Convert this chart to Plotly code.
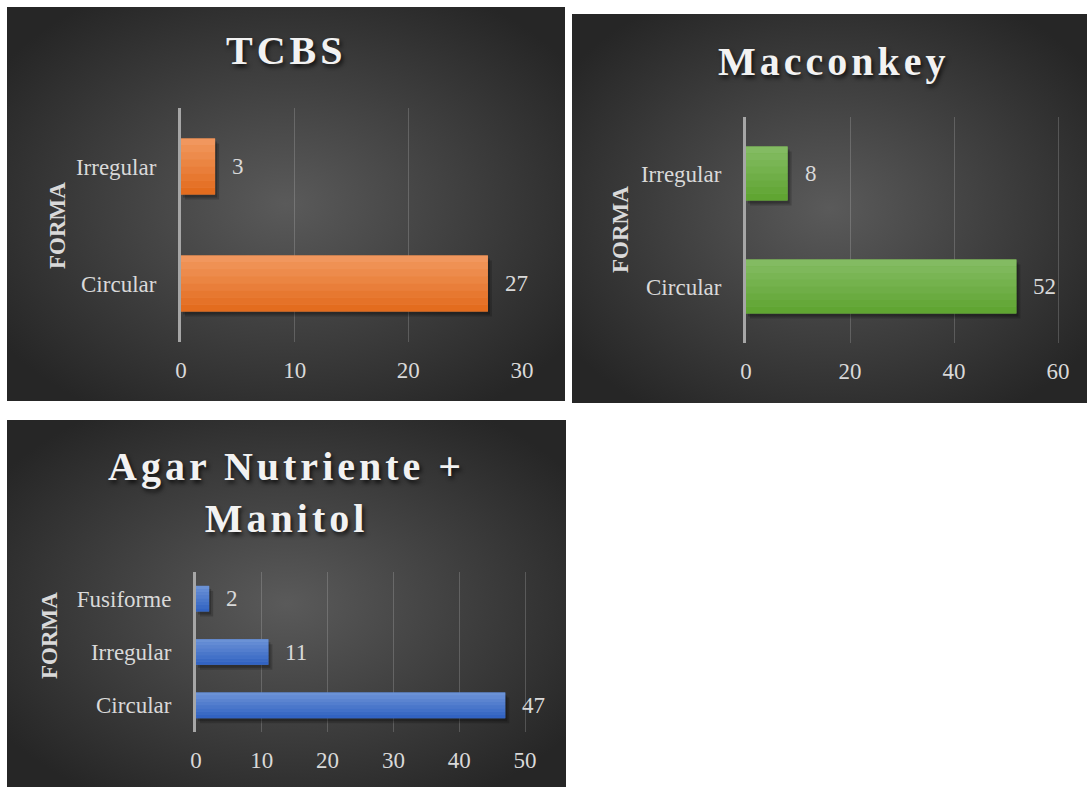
import base64
import plotly.graph_objects as go

W, H = 1088, 787

# ---- data ----
tcbs_forma = ["Circular", "Irregular"]
tcbs_count = [27, 3]

mac_forma = ["Circular", "Irregular"]
mac_count = [52, 8]

agar_forma = ["Circular", "Irregular", "Fusiforme"]
agar_count = [47, 11, 2]

axis_title = "FORMA"
titles = ["TCBS", "Macconkey", "Agar Nutriente +<br>Manitol"]

SERIF = "Liberation Serif, Times New Roman, serif"
LABEL = "#d9d9d9"

# panel layout in pixels: card box, plot box, title centre, axis-title centre
panels = [
    dict(cats=tcbs_forma, vals=tcbs_count, xmax=30, dtick=10,
         card=(7, 7, 565, 401), plot=(181, 108, 522, 342),
         title_xy=(286, 51), forma_xy=(57, 226),
         top="#F29A62", bottom="#E2691A"),
    dict(cats=mac_forma, vals=mac_count, xmax=60, dtick=20,
         card=(572, 14, 1087, 403), plot=(746, 117, 1058, 343),
         title_xy=(834, 61), forma_xy=(620, 230),
         top="#85BD65", bottom="#5EA32F"),
    dict(cats=agar_forma, vals=agar_count, xmax=50, dtick=10,
         card=(7, 420, 566, 787), plot=(196, 572, 525, 732),
         title_xy=(286, 492), forma_xy=(49, 636),
         top="#6F95D8", bottom="#2E60C0"),
]

BAR_W = 0.48
N_STRIPS = 8


def px(x):
    return x / W


def py(y):
    return 1 - y / H


def hex_rgb(h):
    h = h.lstrip("#")
    return tuple(int(h[i:i + 2], 16) for i in (0, 2, 4))


def mix(c1, c2, t):
    a, b = hex_rgb(c1), hex_rgb(c2)
    return "rgb(%d,%d,%d)" % tuple(round(a[i] + (b[i] - a[i]) * t) for i in range(3))


def radial_bg(w, h):
    svg = (
        f'<svg xmlns="http://www.w3.org/2000/svg" width="{w}" height="{h}" '
        f'viewBox="0 0 {w} {h}" preserveAspectRatio="none">'
        '<defs><radialGradient id="g" cx="0.5" cy="0.5" r="0.62">'
        '<stop offset="0" stop-color="#5a5a5a"/>'
        '<stop offset="1" stop-color="#262626"/>'
        '</radialGradient></defs>'
        f'<rect x="0" y="0" width="{w}" height="{h}" fill="url(#g)"/></svg>'
    )
    return "data:image/svg+xml;base64," + base64.b64encode(svg.encode()).decode()


fig = go.Figure()
layout = dict(
    width=W, height=H, margin=dict(l=0, r=0, t=0, b=0, pad=0, autoexpand=False),
    paper_bgcolor="white", plot_bgcolor="rgba(0,0,0,0)",
    barmode="overlay", showlegend=False,
    images=[], annotations=[],
)

for i, p in enumerate(panels, start=1):
    xa, ya = f"x{i}", f"y{i}"
    x0, y0, x1, y1 = p["plot"]
    cx0, cy0, cx1, cy1 = p["card"]
    cat_px = (y1 - y0) / len(p["cats"])
    unit_x = p["xmax"] / (x1 - x0)

    # card background with a radial gradient
    layout["images"].append(dict(
        source=radial_bg(cx1 - cx0, cy1 - cy0), xref="paper", yref="paper",
        x=px(cx0), y=py(cy0), sizex=px(cx1 - cx0), sizey=(cy1 - cy0) / H,
        xanchor="left", yanchor="top", sizing="stretch", layer="below",
    ))

    # soft drop shadow under the bars
    for dy, a in [(5, 0.18), (3, 0.22)]:
        fig.add_trace(go.Bar(
            x=p["vals"], y=p["cats"], orientation="h",
            base=(dy - 1) * unit_x, width=BAR_W, offset=-BAR_W / 2 - dy / cat_px,
            marker=dict(color=f"rgba(0,0,0,{a})", line=dict(width=0)),
            xaxis=xa, yaxis=ya, hoverinfo="skip",
        ))

    # bar body: vertical gradient built from thin strips
    fig.add_trace(go.Bar(
        x=p["vals"], y=p["cats"], orientation="h", width=BAR_W,
        marker=dict(color=mix(p["bottom"], p["top"], 0.5), line=dict(width=0)),
        xaxis=xa, yaxis=ya, hoverinfo="skip",
    ))
    for k in range(N_STRIPS):
        t = (k + 0.5) / N_STRIPS
        fig.add_trace(go.Bar(
            x=p["vals"], y=p["cats"], orientation="h",
            width=BAR_W / N_STRIPS, offset=-BAR_W / 2 + k * BAR_W / N_STRIPS,
            marker=dict(color=mix(p["bottom"], p["top"], t), line=dict(width=0)),
            xaxis=xa, yaxis=ya, hovertemplate="%{y}: %{x}<extra></extra>",
        ))

    # value labels next to each bar
    for c, v in zip(p["cats"], p["vals"]):
        layout["annotations"].append(dict(
            x=v, y=c, xref=xa, yref=ya, text=str(v), showarrow=False,
            xanchor="left", yanchor="middle", xshift=15,
            font=dict(family=SERIF, size=23, color=LABEL),
        ))

    # stretch the range a hair so the last gridline is drawn at the edge
    xr = p["xmax"] * (x1 + 1 - x0) / (x1 - x0)
    tick_font = dict(family=SERIF, size=23, color=LABEL)
    layout[f"xaxis{i}"] = dict(
        domain=[px(x0), px(x1 + 1)], range=[0, xr], tick0=0, dtick=p["dtick"],
        anchor=ya, showgrid=True, gridcolor="rgba(217,217,217,0.22)", gridwidth=1,
        zeroline=False, showline=False, ticks="outside", ticklen=7,
        tickcolor="rgba(0,0,0,0)", tickfont=tick_font, fixedrange=True,
        automargin=False,
    )
    layout[f"yaxis{i}"] = dict(
        domain=[py(y1), py(y0)], type="category", categoryorder="array",
        categoryarray=p["cats"], range=[-0.5, len(p["cats"]) - 0.5],
        anchor=xa, showgrid=False, zeroline=False,
        showline=True, linecolor="#a6a6a6", linewidth=3,
        ticks="outside", ticklen=17, tickcolor="rgba(0,0,0,0)",
        tickfont=tick_font, fixedrange=True, automargin=False,
    )

    # chart title
    tx, ty = p["title_xy"]
    layout["annotations"].append(dict(
        x=px(tx), y=py(ty), xref="paper", yref="paper",
        text=f'<span style="letter-spacing:4px">{titles[i - 1]}</span>',
        showarrow=False, xanchor="center", yanchor="middle",
        font=dict(family=SERIF, size=40, color="#f2f2f2", weight="bold",
                  shadow="2px 3px 4px rgba(0,0,0,0.7)"),
    ))

    # vertical category-axis title
    fx, fy = p["forma_xy"]
    layout["annotations"].append(dict(
        x=px(fx), y=py(fy), xref="paper", yref="paper", text=axis_title,
        showarrow=False, textangle=-90, xanchor="center", yanchor="middle",
        font=dict(family=SERIF, size=23, color=LABEL, weight="bold"),
    ))

fig.update_layout(**layout)
fig.write_html("out.html")
